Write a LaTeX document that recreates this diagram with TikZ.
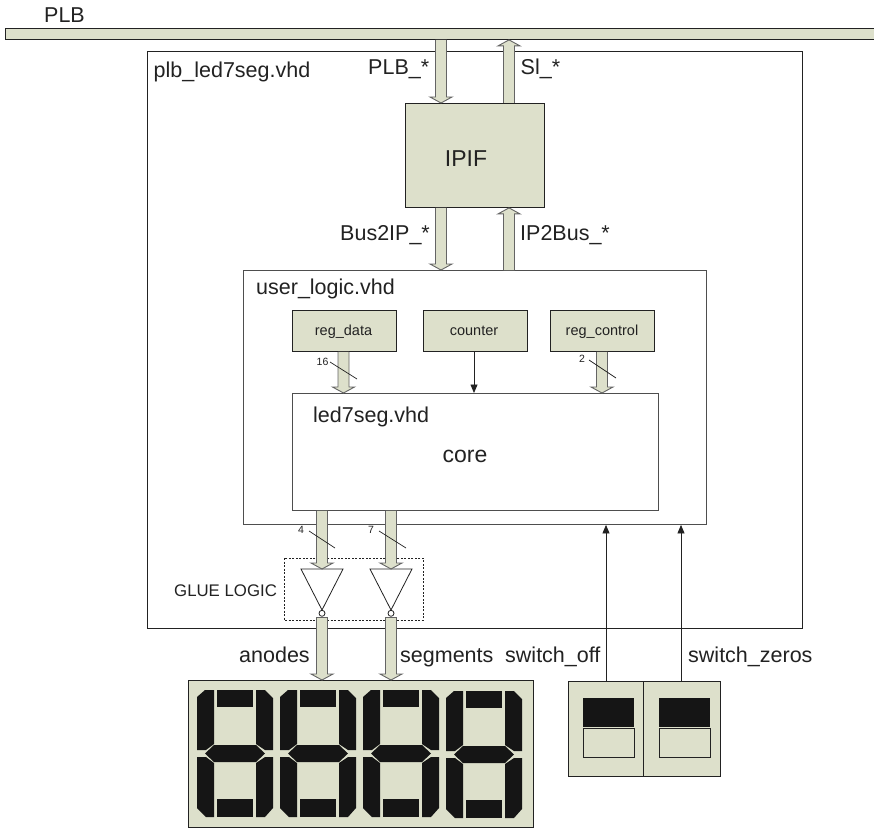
\documentclass[tikz,border=0pt]{standalone}
\usepackage{fontspec}
\setmainfont{Liberation Sans}
\usetikzlibrary{calc,arrows.meta}
\definecolor{khaki}{HTML}{DDE0CB}
\definecolor{ink}{HTML}{222222}
\definecolor{seg}{HTML}{151515}
\tikzset{
  box/.style={draw=ink,line width=0.9pt,fill=none,inner sep=0pt,anchor=north west},
  softbox/.style={box,draw=ink!80},
  block/.style={box,fill=khaki},
  lab/.style={text=ink,inner sep=0pt,anchor=base west,font=\fontsize{21.5}{24}\selectfont},
  big/.style={text=ink,inner sep=0pt,anchor=base,font=\fontsize{23}{26}\selectfont},
  small/.style={text=ink,inner sep=0pt,anchor=base,font=\fontsize{14.5}{17}\selectfont},
  tiny/.style={text=ink,inner sep=0pt,anchor=center,font=\fontsize{10.5}{13}\selectfont},
  fat/.style={draw=ink!70,fill=khaki,line width=0.9pt,line join=miter},
  thin/.style={draw=ink,line width=0.8pt,-{Stealth[length=8.5pt,width=7pt,inset=0pt]}},
  slash/.style={draw=ink,line width=0.7pt},
  segment/.style={fill=seg,draw=none},
  invgate/.style={draw=ink,line width=0.8pt,fill=white},
}
% fat block arrow from #1 to #2, tip at #2
\newcommand\fatarrow[2]{%
  \path #1 coordinate (fas) #2 coordinate (fae);
  \filldraw[fat]
    ($(fas)!5.5pt!90:(fae)$) --
    ($(fae)!6pt!(fas)!5.5pt!-90:(fas)$) --
    ($(fae)!6pt!(fas)!11pt!-90:(fas)$) --
    (fae) --
    ($(fae)!6pt!(fas)!11pt!90:(fas)$) --
    ($(fae)!6pt!(fas)!5.5pt!90:(fas)$) --
    ($(fas)!5.5pt!-90:(fae)$);
}
\newcommand\digitglyph[2]{%
  \begin{scope}[shift={(#1,#2)}]
    \fill[segment] (197,697)--(205,690)--(214,690)--(214,744)--(206,750)--(197,750)--cycle;
    \fill[segment] (217,690) rectangle (253,707);
    \fill[segment] (256,690)--(265,690)--(273,698)--(273,750)--(265,750)--(256,744)--cycle;
    \fill[segment] (205,753.5)--(214,745)--(256,745)--(265,753.5)--(256,762)--(214,762)--cycle;
    \fill[segment] (197,757)--(206,757)--(214,763)--(214,817)--(206,817)--(197,808)--cycle;
    \fill[segment] (217,799) rectangle (253,817);
    \fill[segment] (256,763)--(265,757)--(273,757)--(273,808)--(265,817)--(256,817)--cycle;
  \end{scope}%
}
\newcommand\placebox[6]{% name, style, x1, y1, x2, y2
  \node[#2,minimum width=#5-#3,minimum height=#6-#4] (#1) at (#3,#4) {};
}
\newcommand\invgate[2]{% name, x centre
  \draw[invgate] (#2-21,569) -- (#2+21,569) -- (#2,610) -- cycle;
  \node[invgate,circle,minimum size=6pt,inner sep=0pt] (#1) at (#2,613.3) {};
}
\begin{document}
\begin{tikzpicture}[x=1pt,y=-1pt]
\useasboundingbox[fill=white] (0,0) rectangle (874,829);
% boxes
\placebox{plbbox}{box}{147}{51}{802}{627.5}
\placebox{ulogic}{softbox}{243}{270}{706}{524}
\placebox{core}{softbox}{292}{393}{658}{510}
\draw[box,dashed,line width=0.6pt,dash pattern=on 2pt off 1.5pt] (284,558) rectangle (423,620);
\placebox{bus}{block}{5}{28.5}{880}{39}
\placebox{ipif}{block}{405}{103}{544}{207}
\placebox{regdata}{block}{292}{310}{396}{351}
\placebox{counter}{block}{423}{310}{527}{351}
\placebox{regcontrol}{block}{550}{310}{654}{351}
\placebox{display}{block}{187.5}{680}{533}{827}
\placebox{swa}{block}{568}{681}{643}{776}
\placebox{swb}{block}{643}{681}{720}{776}
% gates
\invgate{gatea}{322}
\invgate{gateb}{391}
% fat arrows
\fatarrow{(bus.south -| 441,0)}{(ipif.north -| 441,0)}
\fatarrow{(ipif.north -| 509,0)}{(bus.south -| 509,0)}
\fatarrow{(ipif.south -| 441,0)}{(ulogic.north -| 441,0)}
\fatarrow{(ulogic.north -| 509,0)}{(ipif.south -| 509,0)}
\fatarrow{(regdata.south -| 343.5,0)}{(core.north -| 343.5,0)}
\fatarrow{(regcontrol.south -| 602,0)}{(core.north -| 602,0)}
\fatarrow{(core.south -| 322,0)}{(gatea.center |- 0,569)}
\fatarrow{(core.south -| 391,0)}{(gateb.center |- 0,569)}
\fatarrow{(gatea.center |- 0,617)}{(display.north -| gatea.center)}
\fatarrow{(gateb.center |- 0,617)}{(display.north -| gateb.center)}
\draw[fat] (316.5,617) -- (327.5,617) (385.5,617) -- (396.5,617);
% thin arrows
\draw[thin] (counter.south -| 474,0) -- (core.north -| 474,0);
\draw[thin] (swa.north -| 606,0) -- (ulogic.south -| 606,0);
\draw[thin] (swb.north -| 681,0) -- (ulogic.south -| 681,0);
% width slashes
\draw[slash] (330,362) -- (357,379);
\draw[slash] (589,360) -- (616,378);
\draw[slash] (309,531) -- (335,548);
\draw[slash] (379,531) -- (406,548);
% digits
\digitglyph{0}{0}
\digitglyph{83}{0}
\digitglyph{166}{0}
\digitglyph{249}{1}
% switches
\fill[segment] (583,698) rectangle (634,727);
\draw[box] (583,728) rectangle (634,757);
\fill[segment] (659,698) rectangle (710,727);
\draw[box] (659,728) rectangle (710,757);
% labels
\node[lab] (tplb) at (44,22.5) {PLB};
\node[lab] (tplbv) at (153.5,78) {plb\_led7seg.vhd};
\node[lab] (tplbs) at (368,75) {PLB\_*};
\node[lab] (tsl) at (520.5,75) {Sl\_*};
\node[big] (tipif) at (466,166) {IPIF};
\node[lab] (tb2i) at (340,240) {Bus2IP\_*};
\node[lab] (ti2b) at (520,240) {IP2Bus\_*};
\node[lab] (tul) at (256,294) {user\_logic.vhd};
\node[small] (trd) at (343.5,335.5) {reg\_data};
\node[small] (tcn) at (474,335.5) {counter};
\node[small] (trc) at (602,335.5) {reg\_control};
\node[tiny] (t16) at (322.5,361.5) {16};
\node[tiny] (t2) at (582,359) {2};
\node[tiny] (t4) at (301,530) {4};
\node[tiny] (t7) at (371,530) {7};
\node[lab] (tled) at (313,422.5) {led7seg.vhd};
\node[big] (tcore) at (465,462) {core};
\node[text=ink,inner sep=0pt,font=\fontsize{16.8}{19}\selectfont,anchor=base west] (tgl) at (174,596) {GLUE LOGIC};
\node[lab] (tan) at (239,662) {anodes};
\node[lab] (tsg) at (400,662) {segments};
\node[lab] (tso) at (505,662) {switch\_off};
\node[lab] (tsz) at (688,662) {switch\_zeros};
\end{tikzpicture}
\end{document}
